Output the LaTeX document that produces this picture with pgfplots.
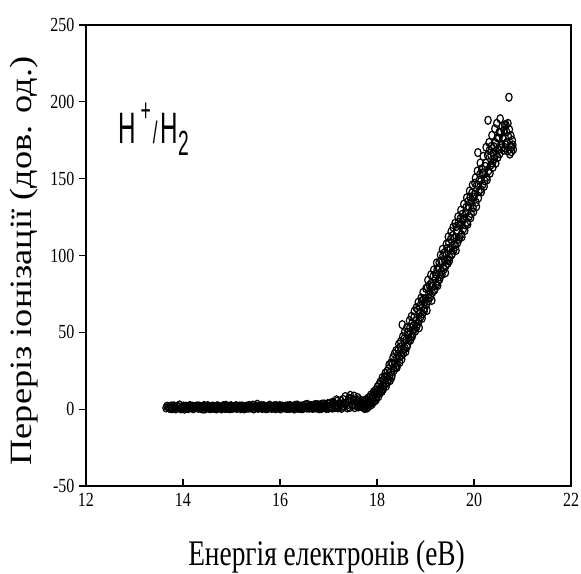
\documentclass[border=0pt]{standalone}
\usepackage{pgfplots}
\pgfplotsset{compat=1.18}
\usepackage{fontspec}
\setmainfont{Liberation Serif}
\newfontfamily\tickfont[FakeStretch=0.8]{Liberation Serif}
\newfontfamily\xlabfont[FakeStretch=0.76]{Liberation Serif}
\newfontfamily\ylabfont[FakeStretch=1.17]{Liberation Serif}
\newfontfamily\hfont[FakeStretch=0.55]{Liberation Sans}
\begin{document}
\begin{tikzpicture}
\begin{axis}[
  scale only axis,
  width=485pt, height=461pt,
  xmin=12, xmax=22, ymin=-50, ymax=250,
  xtick={12,14,...,22}, ytick={-50,0,...,250},
  axis line style={line width=1.5pt},
  xtick pos=bottom, ytick pos=left,
  xtick align=inside, ytick align=outside,
  major tick length=7pt,
  every tick/.style={black, line width=1.2pt},
  tick label style={font=\tickfont\fontsize{20}{20}\selectfont},
  /pgf/number format/assume math mode=true,
  xticklabel style={yshift=-4pt},
  yticklabel style={xshift=-1pt},
  xlabel={Енергія електронів (еВ)},
  ylabel={Переріз іонізації (дов. од.)},
  every axis x label/.style={at={(axis description cs:0.496,0)}, anchor=base, yshift=-79pt, font=\xlabfont\fontsize{36}{36}\selectfont},
  every axis y label/.style={at={(axis description cs:-0.1278,0.488)}, rotate=90, anchor=center, font=\ylabfont\fontsize{31}{31}\selectfont},
  clip=false,
]
% fitted curve
\addplot[black, line width=1.2pt] coordinates {
(17.5,0) (17.7,1) (17.8,3) (18.0,11) (18.2,20) (18.4,31) (18.6,43) (18.8,56) (19.0,70) (19.2,83) (19.4,96) (19.6,109) (19.8,122) (20.0,136) (20.2,150) (20.4,164) (20.6,178) (20.7,188)
};
% measured points
\addplot[only marks, mark=o, mark size=4pt, mark options={xscale=0.8, line width=1.2pt, black}] coordinates {
(13.65,0.8) (13.67,1.9)
(13.70,1.2) (13.73,0.4) (13.76,2.0) (13.79,0.9) (13.82,1.6) (13.85,0.2) (13.88,1.8) (13.91,1.1) (13.94,2.5) (13.97,0.6)
(14.00,1.4) (14.03,0.0) (14.06,1.9) (14.09,1.3) (14.12,0.7) (14.15,2.2) (14.18,1.0) (14.21,0.3) (14.24,1.7) (14.27,1.5)
(14.30,0.8) (14.33,2.1) (14.36,0.5) (14.39,1.2) (14.42,1.9) (14.45,0.1) (14.48,1.4) (14.51,2.3) (14.54,0.9) (14.57,1.6)
(14.60,0.6) (14.63,1.8) (14.66,1.1) (14.69,0.2) (14.72,2.0) (14.75,1.3) (14.78,0.7) (14.81,1.5) (14.84,2.4) (14.87,0.4)
(14.90,1.0) (14.93,1.7) (14.96,0.3) (14.99,2.2) (15.02,1.2) (15.05,0.8) (15.08,1.9) (15.11,0.5) (15.14,1.4) (15.17,2.1)
(15.20,0.9) (15.23,1.6) (15.26,0.2) (15.29,1.3) (15.32,2.0) (15.35,0.7) (15.38,1.5) (15.41,1.1) (15.44,2.6) (15.47,0.4)
(15.50,1.8) (15.53,3.2) (15.56,0.6) (15.59,1.2) (15.62,2.3) (15.65,0.9) (15.68,1.7) (15.71,0.3) (15.74,1.4) (15.77,2.1)
(15.80,1.0) (15.83,0.5) (15.86,1.9) (15.89,1.3) (15.92,2.4) (15.95,0.8) (15.98,1.6) (16.01,0.2) (16.04,2.0) (16.07,1.1)
(16.10,0.7) (16.13,1.5) (16.16,2.2) (16.19,0.4) (16.22,1.8) (16.25,1.2) (16.28,0.9) (16.31,2.5) (16.34,1.4) (16.37,0.6)
(16.40,1.7) (16.43,2.0) (16.46,0.3) (16.49,1.3) (16.52,2.8) (16.55,0.8) (16.58,1.6) (16.61,1.0) (16.64,2.3) (16.67,0.5)
(16.70,1.9) (16.73,3.0) (16.76,0.7) (16.79,1.5) (16.82,2.6) (16.85,0.4) (16.88,1.8) (16.91,3.4) (16.94,1.1) (16.97,2.2)
(17.00,0.6) (17.03,3.8) (17.06,1.4) (17.09,4.6) (17.12,0.9) (17.15,2.7) (17.18,5.2) (17.21,1.2) (17.24,3.5) (17.27,0.5)
(17.30,6.4) (17.33,2.0) (17.36,4.1) (17.39,0.8) (17.42,7.2) (17.45,9.0) (17.48,2.9) (17.51,5.8) (17.54,1.0) (17.57,4.4)
(17.60,7.6) (17.63,2.2) (17.66,5.0) (17.68,1.7)
(13.715,0.9) (13.745,1.8) (13.775,0.3) (13.805,2.2) (13.835,1.1) (13.865,0.6) (13.895,1.5) (13.925,2.7) (13.955,0.2) (13.985,1.3)
(14.015,2.0) (14.045,0.8) (14.075,1.6) (14.105,0.4) (14.135,2.3) (14.165,1.0) (14.195,1.9) (14.225,0.5) (14.255,1.4) (14.285,2.1)
(14.315,0.7) (14.345,1.7) (14.375,1.2) (14.405,0.1) (14.435,2.4) (14.465,1.5) (14.495,0.9) (14.525,1.8) (14.555,0.3) (14.585,1.1)
(14.615,2.0) (14.645,0.5) (14.675,1.6) (14.705,2.2) (14.735,0.8) (14.765,1.4) (14.795,0.2) (14.825,1.9) (14.855,1.2) (14.885,2.5)
(14.915,0.6) (14.945,1.3) (14.975,2.0) (15.005,0.4) (15.035,1.7) (15.065,1.1) (15.095,2.3) (15.125,0.9) (15.155,1.5) (15.185,0.3)
(15.215,2.1) (15.245,1.0) (15.275,1.8) (15.305,0.6) (15.335,1.4) (15.365,2.4) (15.395,0.8) (15.425,1.6) (15.455,0.2) (15.485,1.2)
(15.515,2.0) (15.545,0.7) (15.575,1.9) (15.605,1.3) (15.635,0.4) (15.665,2.2) (15.695,1.1) (15.725,1.7) (15.755,0.5) (15.785,2.6)
(15.815,1.4) (15.845,0.9) (15.875,2.1) (15.905,0.3) (15.935,1.5) (15.965,1.0) (15.995,2.3) (16.025,0.6) (16.055,1.8) (16.085,1.2)
(16.115,2.0) (16.145,0.4) (16.175,1.6) (16.205,2.4) (16.235,0.8) (16.265,1.3) (16.295,0.1) (16.325,1.9) (16.355,2.7) (16.385,1.0)
(16.415,0.5) (16.445,1.7) (16.475,2.2) (16.505,0.9) (16.535,1.4) (16.565,3.1) (16.595,0.6) (16.625,1.8) (16.655,1.1) (16.685,2.5)
(16.715,0.8) (16.745,1.5) (16.775,2.9) (16.805,0.3) (16.835,1.9) (16.865,3.3) (16.895,1.0) (16.925,2.1) (16.955,0.5) (16.985,3.6)
(17.015,1.6) (17.045,2.4) (17.075,0.7) (17.105,4.0) (17.135,1.9) (17.165,6.1) (17.195,0.8) (17.225,3.0) (17.255,5.5) (17.285,1.3)
(17.315,3.9) (17.345,8.2) (17.375,2.4) (17.405,5.3) (17.435,1.1) (17.465,6.8) (17.495,3.3) (17.525,8.5) (17.555,2.6) (17.585,5.9)
(17.615,1.4) (17.645,6.2) (17.675,3.0)
(17.70,3.5) (17.72,1.0) (17.74,4.8) (17.76,1.5) (17.78,3.2) (17.80,0.8) (17.82,5.6) (17.84,3.9) (17.86,7.8) (17.88,4.2)
(17.90,7.4) (17.92,4.5) (17.94,10.2) (17.96,9.6) (17.98,6.0) (18.00,12.5) (18.02,10.8) (18.04,15.9) (18.06,10.4) (18.08,13.7)
(18.10,11.5) (18.12,18.6) (18.14,15.3) (18.16,21.2) (18.18,16.5) (18.20,21.0) (18.22,17.8) (18.24,26.4) (18.26,21.3) (18.28,24.1)
(18.30,20.5) (18.32,29.7) (18.34,26.8) (18.36,36.0) (18.38,27.2) (18.40,33.0) (18.42,28.4) (18.44,38.7) (18.46,33.6) (18.48,40.5)
(18.50,35.0) (18.52,55.0) (18.54,36.2) (18.56,45.8) (18.58,39.5) (18.60,45.0) (18.62,40.6) (18.64,50.1) (18.66,44.8) (18.68,53.4)
(18.70,47.0) (18.72,55.9) (18.74,49.2) (18.76,59.6) (18.78,52.4) (18.80,57.5) (18.82,53.8) (18.84,64.6) (18.86,57.2) (18.88,67.1)
(18.90,60.0) (18.92,70.4) (18.94,62.1) (18.96,71.6) (18.98,65.3) (19.00,72.0) (19.02,68.2) (19.04,79.4) (19.06,70.5) (19.08,80.6)
(19.10,73.0) (19.12,82.1) (19.14,75.8) (19.16,86.5) (19.18,77.3) (19.20,84.5) (19.22,80.6) (19.24,91.0) (19.26,83.2) (19.28,95.4)
(19.30,86.1) (19.32,96.5) (19.34,87.7) (19.36,99.8) (19.38,91.0) (19.40,97.0) (19.42,93.3) (19.44,104.6) (19.46,94.9) (19.48,108.2)
(19.50,98.6) (19.52,110.7) (19.54,100.4) (19.56,113.0) (19.58,103.5) (19.60,111.0) (19.62,105.8) (19.64,118.9) (19.66,108.2) (19.68,121.6)
(19.70,112.0) (19.72,124.1) (19.74,113.7) (19.76,126.9) (19.78,117.3) (19.80,124.0) (19.82,119.9) (19.84,131.4) (19.86,121.6) (19.88,135.2)
(19.90,125.5) (19.92,138.0) (19.94,127.3) (19.96,140.8) (19.98,131.0) (20.00,138.0) (20.02,147.0) (20.04,134.6) (20.06,146.2) (20.08,167.0)
(20.10,141.5) (20.12,152.8) (20.14,143.0) (20.16,156.4) (20.18,146.2) (20.20,153.5) (20.22,148.6) (20.24,160.1) (20.26,151.0) (20.28,165.2)
(20.29,188.0) (20.30,155.1) (20.32,168.4) (20.34,158.6) (20.36,171.0) (20.38,160.2) (20.40,167.0) (20.42,162.9) (20.44,173.4) (20.46,165.8)
(20.48,176.6) (20.50,169.0) (20.52,180.2) (20.54,189.0) (20.56,172.8) (20.58,184.1) (20.60,176.0) (20.62,181.5) (20.64,170.2) (20.66,184.8)
(20.68,173.4) (20.70,186.0) (20.72,203.0) (20.74,166.0) (20.76,178.0) (20.78,170.5) (20.80,172.0)
(17.71,2.0) (17.73,5.5) (17.75,0.4) (17.77,6.0) (17.79,2.4) (17.81,7.1) (17.83,1.8) (17.85,5.0) (17.87,9.2) (17.89,3.0)
(17.91,6.1) (17.93,11.3) (17.95,5.2) (17.97,12.4) (17.99,8.0) (18.01,14.6) (18.03,8.1) (18.05,12.0) (18.07,17.8) (18.09,12.2)
(18.11,20.5) (18.13,13.0) (18.15,17.4) (18.17,23.5) (18.19,15.0) (18.21,24.8) (18.23,19.2) (18.25,28.9) (18.27,18.6) (18.29,30.2)
(18.31,22.0) (18.33,33.5) (18.35,25.4) (18.37,29.8) (18.39,38.0) (18.41,27.1) (18.43,35.6) (18.45,42.3) (18.47,30.4) (18.49,44.0)
(18.51,32.5) (18.53,47.2) (18.55,38.6) (18.57,50.3) (18.59,37.4) (18.61,52.8) (18.63,42.0) (18.65,48.3) (18.67,57.6) (18.69,44.9)
(18.71,60.4) (18.73,47.5) (18.75,54.2) (18.77,63.8) (18.79,50.7) (18.81,66.0) (18.83,55.3) (18.85,69.5) (18.87,53.0) (18.89,62.8)
(18.91,72.4) (18.93,59.1) (18.95,76.0) (18.97,63.6) (18.99,69.8) (19.01,78.5) (19.03,64.2) (19.05,84.0) (19.07,72.6) (19.09,77.1)
(19.11,87.4) (19.13,70.8) (19.15,80.2) (19.17,90.6) (19.19,78.0) (19.21,87.9) (19.23,95.2) (19.25,80.4) (19.27,92.0) (19.29,84.5)
(19.31,100.3) (19.33,89.6) (19.35,104.0) (19.37,92.3) (19.39,101.8) (19.41,88.7) (19.43,107.5) (19.45,97.0) (19.47,112.2) (19.49,96.4)
(19.51,104.8) (19.53,115.6) (19.55,101.2) (19.57,118.4) (19.59,106.9) (19.61,121.0) (19.63,103.3) (19.65,116.5) (19.67,125.2) (19.69,110.6)
(19.71,119.8) (19.73,129.5) (19.75,112.1) (19.77,123.0) (19.79,133.4) (19.81,116.2) (19.83,127.8) (19.85,137.6) (19.87,120.3) (19.89,131.9)
(19.91,142.0) (19.93,124.6) (19.95,135.1) (19.97,145.9) (19.99,128.4) (20.01,139.7) (20.03,150.5) (20.05,131.8) (20.07,155.0) (20.09,137.4)
(20.11,148.9) (20.13,160.2) (20.15,141.3) (20.17,153.7) (20.19,164.5) (20.21,145.0) (20.23,158.0) (20.25,170.4) (20.27,149.2) (20.31,173.6)
(20.33,153.5) (20.35,165.0) (20.37,178.2) (20.39,157.4) (20.41,170.8) (20.43,182.5) (20.45,160.0) (20.47,186.0) (20.49,163.8) (20.51,176.5)
(20.53,166.2) (20.55,180.0) (20.57,170.0) (20.59,176.8) (20.61,168.5) (20.63,185.0) (20.65,172.0) (20.67,180.5) (20.69,168.0) (20.71,177.4)
(20.73,182.0) (20.75,171.5) (20.77,167.5) (20.79,175.0) (20.81,169.0)
};
\node[anchor=base west, inner sep=0pt] at (axis cs:12.66,173)
  {\hfont\fontsize{44}{50}\selectfont H\hspace{5pt}\raisebox{22pt}{\fontsize{32}{34}\selectfont +}\hspace{2pt}{\fontsize{31}{34}\selectfont /}\hspace{3pt}H\raisebox{-12pt}{\fontsize{35}{38}\selectfont 2}};
\end{axis}
\pgfresetboundingbox
\path (current axis.south west) ++(-86pt,-87pt) coordinate (bbsw);
\path (current axis.north east) ++(10pt,25pt) coordinate (bbne);
\path (bbsw) rectangle (bbne);
\end{tikzpicture}
\end{document}
